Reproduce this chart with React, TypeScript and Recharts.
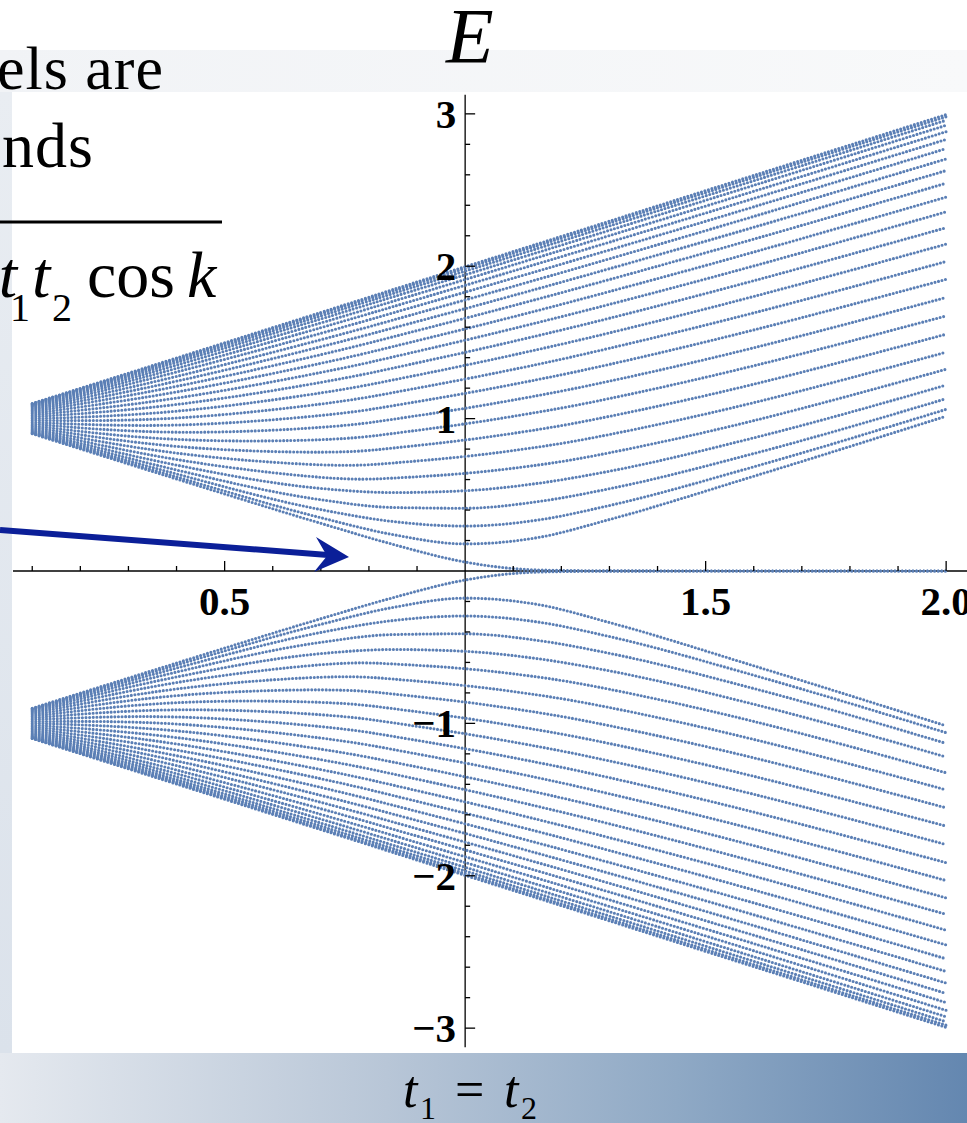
import React from 'react';
import { LineChart, Line, XAxis, YAxis, ReferenceLine, ReferenceDot } from 'recharts';

// hopping t2 (x) at which each level is sampled, t1 = 1
const tValues = [0.1, 0.4, 0.7, 0.85, 1.0, 1.15, 1.3, 1.6, 2.0];

// positive energy levels, top to bottom (lower band is the mirror image)
const level01 = [1.099, 1.398, 1.697, 1.847, 1.997, 2.146, 2.296, 2.596, 2.995];
const level02 = [1.098, 1.392, 1.689, 1.837, 1.986, 2.135, 2.284, 2.583, 2.981];
const level03 = [1.095, 1.382, 1.674, 1.821, 1.968, 2.116, 2.264, 2.561, 2.958];
const level04 = [1.09, 1.369, 1.654, 1.799, 1.944, 2.09, 2.236, 2.531, 2.925];
const level05 = [1.085, 1.351, 1.628, 1.77, 1.913, 2.057, 2.201, 2.492, 2.883];
const level06 = [1.079, 1.33, 1.597, 1.735, 1.875, 2.016, 2.158, 2.445, 2.832];
const level07 = [1.071, 1.306, 1.56, 1.694, 1.83, 1.968, 2.107, 2.39, 2.772];
const level08 = [1.063, 1.277, 1.518, 1.647, 1.779, 1.913, 2.049, 2.327, 2.704];
const level09 = [1.054, 1.246, 1.472, 1.595, 1.722, 1.852, 1.984, 2.256, 2.628];
const level10 = [1.044, 1.212, 1.42, 1.537, 1.659, 1.784, 1.913, 2.178, 2.545];
const level11 = [1.033, 1.175, 1.363, 1.473, 1.589, 1.709, 1.834, 2.093, 2.454];
const level12 = [1.022, 1.135, 1.303, 1.405, 1.515, 1.63, 1.75, 2.002, 2.357];
const level13 = [1.011, 1.093, 1.238, 1.332, 1.435, 1.544, 1.659, 1.905, 2.253];
const level14 = [0.999, 1.049, 1.169, 1.254, 1.35, 1.453, 1.563, 1.802, 2.145];
const level15 = [0.988, 1.004, 1.096, 1.171, 1.26, 1.356, 1.462, 1.694, 2.031];
const level16 = [0.976, 0.958, 1.021, 1.085, 1.166, 1.256, 1.356, 1.582, 1.914];
const level17 = [0.965, 0.911, 0.943, 0.996, 1.068, 1.151, 1.246, 1.465, 1.795];
const level18 = [0.954, 0.864, 0.862, 0.903, 0.966, 1.042, 1.132, 1.347, 1.674];
const level19 = [0.944, 0.818, 0.78, 0.807, 0.86, 0.928, 1.015, 1.226, 1.554];
const level20 = [0.934, 0.774, 0.697, 0.709, 0.752, 0.813, 0.896, 1.105, 1.436];
const level21 = [0.926, 0.732, 0.615, 0.61, 0.641, 0.695, 0.776, 0.987, 1.324];
const level22 = [0.918, 0.695, 0.542, 0.515, 0.527, 0.575, 0.655, 0.874, 1.22];
const level23 = [0.912, 0.663, 0.468, 0.417, 0.412, 0.455, 0.54, 0.771, 1.131];
const level24 = [0.907, 0.637, 0.403, 0.325, 0.295, 0.334, 0.43, 0.684, 1.061];
const level25 = [0.903, 0.617, 0.35, 0.239, 0.178, 0.219, 0.338, 0.622, 1.016];
const level26 = [0.901, 0.604, 0.313, 0.175, 0.059, 0.007, 0.001, 0, 0];

const levels = [
  level01, level02, level03, level04, level05, level06, level07, level08, level09,
  level10, level11, level12, level13, level14, level15, level16, level17, level18,
  level19, level20, level21, level22, level23, level24, level25, level26,
];

const xMajorTicks = [0.5, 1.5, 2.0];
const xMajorLabels = ['0.5', '1.5', '2.0'];
const xMinorTicks = [0.1, 0.2, 0.3, 0.4, 0.6, 0.7, 0.8, 0.9, 1.1, 1.2, 1.3, 1.4, 1.6, 1.7, 1.8, 1.9];
const yMajorTicks = [3, 2, 1, -1, -2, -3];
const yMajorLabels = ['3', '2', '1', '\u22121', '\u22122', '\u22123'];
const yMinorTicks = [
  2.8, 2.6, 2.4, 2.2, 1.8, 1.6, 1.4, 1.2, 0.8, 0.6, 0.4, 0.2,
  -0.2, -0.4, -0.6, -0.8, -1.2, -1.4, -1.6, -1.8, -2.2, -2.4, -2.6, -2.8,
];
const yAxisSpan = [-3.125, 3.125];

const data = tValues.map((t, i) => {
  const row: Record<string, number> = { t };
  levels.forEach((lv, j) => {
    row[`u${j}`] = lv[i];
    row[`d${j}`] = -lv[i];
  });
  return row;
});

const DOT = '#5B7FB5';
const SERIF = '"Liberation Serif", "Times New Roman", serif';

const XTick = (p: any) => (
  <g>
    <line x1={p.cx} y1={p.cy} x2={p.cx} y2={p.cy - p.len} stroke="#000" strokeWidth={1.3} />
    {p.label ? (
      <text x={p.cx} y={p.cy + 44} textAnchor="middle" fontFamily={SERIF} fontWeight="bold" fontSize={41} fill="#000">
        {p.label}
      </text>
    ) : null}
  </g>
);

const YTick = (p: any) => (
  <g>
    <line x1={p.cx} y1={p.cy} x2={p.cx + p.len} y2={p.cy} stroke="#000" strokeWidth={1.3} />
    {p.label ? (
      <text x={p.cx - 9} y={p.cy + 14} textAnchor="end" fontFamily={SERIF} fontWeight="bold" fontSize={41} fill="#000">
        {p.label}
      </text>
    ) : null}
  </g>
);

const levelLine = (key: string, j: number) => (
  <Line
    key={key}
    dataKey={key}
    type={j < 21 ? 'natural' : 'monotone'}
    stroke={DOT}
    strokeWidth={3.1}
    strokeDasharray="0 3.6"
    strokeLinecap="round"
    dot={false}
    activeDot={false}
    isAnimationActive={false}
  />
);

const SpectrumChart = () => (
  <LineChart width={962} height={960} data={data} margin={{ top: 0, right: 0, bottom: 0, left: 0 }}>
    <XAxis type="number" dataKey="t" domain={[0.06, 2.06]} hide allowDataOverflow />
    <YAxis type="number" domain={[-3.15, 3.15]} hide allowDataOverflow />
    <ReferenceLine y={0} stroke="#000" strokeWidth={1.3} />
    <ReferenceLine
      segment={[{ x: 1, y: yAxisSpan[0] }, { x: 1, y: yAxisSpan[1] }]}
      stroke="#000"
      strokeWidth={1.3}
    />
    {xMinorTicks.map((v) => (
      <ReferenceDot key={`xm${v}`} x={v} y={0} r={0} shape={(p: any) => <XTick {...p} len={5} />} />
    ))}
    {xMajorTicks.map((v, i) => (
      <ReferenceDot key={`xM${v}`} x={v} y={0} r={0} shape={(p: any) => <XTick {...p} len={10} label={xMajorLabels[i]} />} />
    ))}
    {yMinorTicks.map((v) => (
      <ReferenceDot key={`ym${v}`} x={1} y={v} r={0} shape={(p: any) => <YTick {...p} len={5} />} />
    ))}
    {yMajorTicks.map((v, i) => (
      <ReferenceDot key={`yM${v}`} x={1} y={v} r={0} shape={(p: any) => <YTick {...p} len={10} label={yMajorLabels[i]} />} />
    ))}
    {levels.map((_, j) => levelLine(`u${j}`, j))}
    {levels.map((_, j) => levelLine(`d${j}`, j))}
  </LineChart>
);

const App = () => {
  return (
    <div style={{ position: 'absolute', left: 0, top: 0, width: 967, height: 1123, overflow: 'hidden', background: '#fff' }}>
      <div style={{ position: 'absolute', left: 0, top: 50, width: 967, height: 42, background: 'linear-gradient(to right, #f1f3f6, #f8f9fa)' }} />
      <div style={{ position: 'absolute', left: 0, top: 92, width: 12, height: 961, background: 'linear-gradient(to bottom, #e9edf2, #dbe2eb)' }} />
      <div style={{ position: 'absolute', left: 12, top: 92, width: 955, height: 961, background: '#fff' }} />
      <div style={{ position: 'absolute', left: 0, top: 1053, width: 967, height: 70, background: 'linear-gradient(to right, #e5e9ef 0%, #b8c6d7 40%, #8fa9c5 70%, #6487b0 100%)' }} />
      <div style={{ position: 'absolute', left: 12.5, top: 91 }}>
        <SpectrumChart />
      </div>
      <svg width={967} height={1123} style={{ position: 'absolute', left: 0, top: 0, pointerEvents: 'none' }}>
        <text x={446} y={62} fontFamily={SERIF} fontStyle="italic" fontSize={78} fill="#000">E</text>
        <text x={164} y={89} textAnchor="end" fontFamily={SERIF} fontSize={62} letterSpacing={1} fill="#000">els are</text>
        <text x={94} y={167} textAnchor="end" fontFamily={SERIF} fontSize={64} letterSpacing={1} fill="#000">nds</text>
        <line x1={0} y1={222} x2={222} y2={222} stroke="#000" strokeWidth={3} />
        <text x={17} y={297} textAnchor="end" fontFamily={SERIF} fontStyle="italic" fontSize={66} fill="#000">t</text>
        <text x={10} y={321} fontFamily={SERIF} fontSize={40} fill="#000">1</text>
        <text x={32} y={297} fontFamily={SERIF} fontStyle="italic" fontSize={66} fill="#000">t</text>
        <text x={52} y={321} fontFamily={SERIF} fontSize={40} fill="#000">2</text>
        <text x={87} y={297} fontFamily={SERIF} fontSize={66} fill="#000">cos</text>
        <text x={187} y={297} fontFamily={SERIF} fontStyle="italic" fontSize={66} fill="#000">k</text>
        <line x1={0} y1={530} x2={328} y2={555} stroke="#0b1f98" strokeWidth={6} />
        <polygon points="349,557 316,537 327,556 314,572" fill="#0b1f98" />
        <text x={403} y={1107} fontFamily={SERIF} fontStyle="italic" fontSize={52} fill="#000">t</text>
        <text x={420} y={1119} fontFamily={SERIF} fontSize={32} fill="#000">1</text>
        <text x={455} y={1107} fontFamily={SERIF} fontSize={52} fill="#000">=</text>
        <text x={504} y={1107} fontFamily={SERIF} fontStyle="italic" fontSize={52} fill="#000">t</text>
        <text x={521} y={1119} fontFamily={SERIF} fontSize={32} fill="#000">2</text>
      </svg>
    </div>
  );
};

export default App;
